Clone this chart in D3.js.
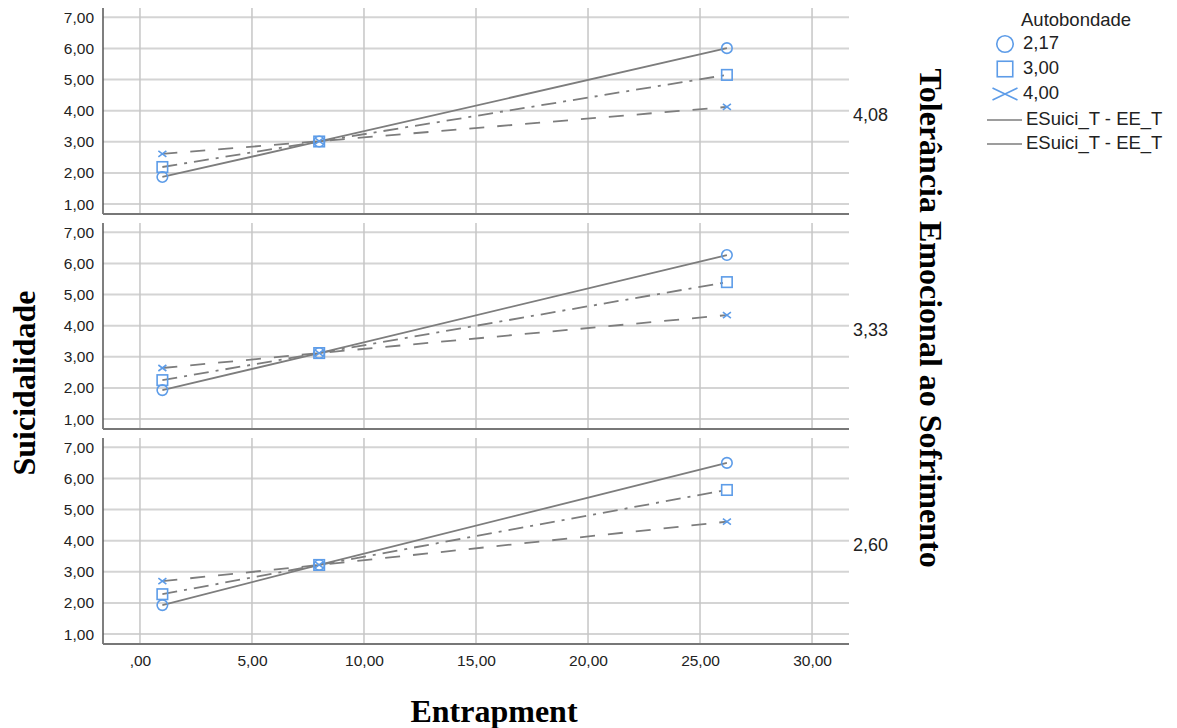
<!DOCTYPE html>
<html lang="pt">
<head>
<meta charset="utf-8">
<title>Suicidalidade x Entrapment</title>
<script src="https://d3js.org/d3.v7.min.js"></script>
<style>
body { margin: 0; background: #fff; }
svg text { font-family: "Liberation Sans", Arial, sans-serif; }
.title { font-family: "Liberation Serif", "Times New Roman", serif !important; font-weight: bold; fill: #000; }
</style>
</head>
<body>
<div id="chart"></div>
<script>
// valores
var entrapment = [1.0, 8.0, 26.2];
var tolerancia = ["4,08", "3,33", "2,60"];
var autobondade = ["2,17", "3,00", "4,00"];

// Suicidalidade por painel, uma linha por nível de Autobondade
var sui_408 = [[1.87, 3.01, 6.01], [2.19, 3.01, 5.15], [2.61, 3.02, 4.12]];
var sui_333 = [[1.93, 3.12, 6.27], [2.25, 3.12, 5.40], [2.64, 3.12, 4.34]];
var sui_260 = [[1.93, 3.22, 6.50], [2.28, 3.22, 5.63], [2.70, 3.22, 4.61]];

var yTicks = [1, 2, 3, 4, 5, 6, 7];
var yTickLabels = ["1,00", "2,00", "3,00", "4,00", "5,00", "6,00", "7,00"];
var xTicks = [0, 5, 10, 15, 20, 25, 30];
var xTickLabels = [",00", "5,00", "10,00", "15,00", "20,00", "25,00", "30,00"];

var panels = [sui_408, sui_333, sui_260];

var width = 1177, height = 728;
var left = 103, right = 849, panelH = 206, panelTops = [8, 223, 438];
var blue = "#5d9ce8", lineCol = "#7d7d7d";
var dashes = [null, "15,7,3,7", "15,13"];

var svg = d3.select("#chart").append("svg")
    .attr("width", width).attr("height", height);

var x = d3.scaleLinear().domain([-1.65, 31.65]).range([left, right]);
var y = d3.scaleLinear().domain([0.68, 7.3]).range([panelH, 0]);

function marker(g, i, size, xw, xh) {
    var s = size;
    if (i === 0) {
        g.append("circle").attr("r", s / 2);
    } else if (i === 1) {
        g.append("rect").attr("x", -s / 2).attr("y", -s / 2).attr("width", s).attr("height", s);
    } else {
        var w = xw / 2, h = xh / 2;
        g.append("path").attr("d", "M" + (-w) + "," + (-h) + "L" + w + "," + h + "M" + (-w) + "," + h + "L" + w + "," + (-h));
    }
    g.attr("fill", "none").attr("stroke", blue).attr("stroke-width", 1.6);
}

panels.forEach(function (data, p) {
    var g = svg.append("g").attr("transform", "translate(0," + panelTops[p] + ")");

    // grade
    g.selectAll(".hg").data(yTicks).enter().append("line")
        .attr("x1", left).attr("x2", right)
        .attr("y1", d => y(d)).attr("y2", d => y(d))
        .attr("stroke", "#d4d4d4").attr("stroke-width", 2);
    g.selectAll(".vg").data(xTicks).enter().append("line")
        .attr("x1", d => x(d)).attr("x2", d => x(d))
        .attr("y1", 0).attr("y2", panelH)
        .attr("stroke", "#c6c6c6").attr("stroke-width", 1.5);

    // eixo y
    var yAxis = d3.axisLeft(y).tickValues(yTicks).tickSize(0).tickPadding(9)
        .tickFormat((d, i) => yTickLabels[i]);
    var ya = g.append("g").attr("transform", "translate(" + left + ",0)").call(yAxis);
    ya.select(".domain").remove();
    ya.selectAll("text").attr("font-size", 15.5).attr("fill", "#222")
        .style("font-family", "Liberation Sans, Arial, sans-serif");

    g.append("line").attr("x1", left).attr("x2", left).attr("y1", 0).attr("y2", panelH)
        .attr("stroke", "#555").attr("stroke-width", 1.5);
    g.append("line").attr("x1", left).attr("x2", right).attr("y1", panelH).attr("y2", panelH)
        .attr("stroke", "#777").attr("stroke-width", 2);

    // linhas
    var line = d3.line().x((d, i) => x(entrapment[i])).y(d => y(d));
    data.forEach(function (vals, s) {
        g.append("path").attr("d", line(vals))
            .attr("fill", "none").attr("stroke", lineCol).attr("stroke-width", 1.8)
            .attr("stroke-dasharray", dashes[s]);
    });
    data.forEach(function (vals, s) {
        vals.forEach(function (v, i) {
            var m = g.append("g").attr("transform", "translate(" + x(entrapment[i]) + "," + y(v) + ")");
            marker(m, s, 10.5, 8, 6);
        });
    });

    // rótulo do painel
    g.append("text").attr("x", right + 4).attr("y", panelH / 2 + 5)
        .attr("dominant-baseline", "middle")
        .attr("font-size", 18).attr("fill", "#222").text(tolerancia[p]);

    if (p === panels.length - 1) {
        var xAxis = d3.axisBottom(x).tickValues(xTicks).tickSize(0).tickPadding(11)
            .tickFormat((d, i) => xTickLabels[i]);
        var xa = g.append("g").attr("transform", "translate(0," + panelH + ")").call(xAxis);
        xa.select(".domain").remove();
        xa.selectAll("text").attr("font-size", 15.5).attr("fill", "#222")
            .style("font-family", "Liberation Sans, Arial, sans-serif");
    }
});

// títulos
svg.append("text").attr("class", "title")
    .attr("x", 494).attr("y", 722).attr("text-anchor", "middle")
    .attr("font-size", 32).text("Entrapment");
svg.append("text").attr("class", "title")
    .attr("transform", "translate(35,383) rotate(-90)").attr("text-anchor", "middle")
    .attr("font-size", 32).text("Suicidalidade");
svg.append("text").attr("class", "title")
    .attr("transform", "translate(920,318) rotate(90)").attr("text-anchor", "middle")
    .attr("font-size", 32).text("Tolerância Emocional ao Sofrimento");

// legenda
var lg = svg.append("g");
lg.append("text").attr("x", 1021).attr("y", 26).attr("font-size", 18.5).attr("fill", "#222").text("Autobondade");
autobondade.forEach(function (name, i) {
    var yy = 44 + i * 25;
    var m = lg.append("g").attr("transform", "translate(1005," + yy + ")");
    marker(m, i, i === 0 ? 16.5 : 15.5, 25, 12);
    lg.append("text").attr("x", 1023).attr("y", yy).attr("dominant-baseline", "middle")
        .attr("font-size", 18.5).attr("fill", "#222").text(name);
});
["ESuici_T - EE_T", "ESuici_T - EE_T"].forEach(function (name, i) {
    var yy = 120 + i * 24;
    lg.append("line").attr("x1", 987).attr("x2", 1022).attr("y1", yy).attr("y2", yy)
        .attr("stroke", lineCol).attr("stroke-width", 1.6);
    lg.append("text").attr("x", 1026).attr("y", yy).attr("dominant-baseline", "middle")
        .attr("font-size", 18.5).attr("fill", "#222").text(name);
});
</script>
</body>
</html>
